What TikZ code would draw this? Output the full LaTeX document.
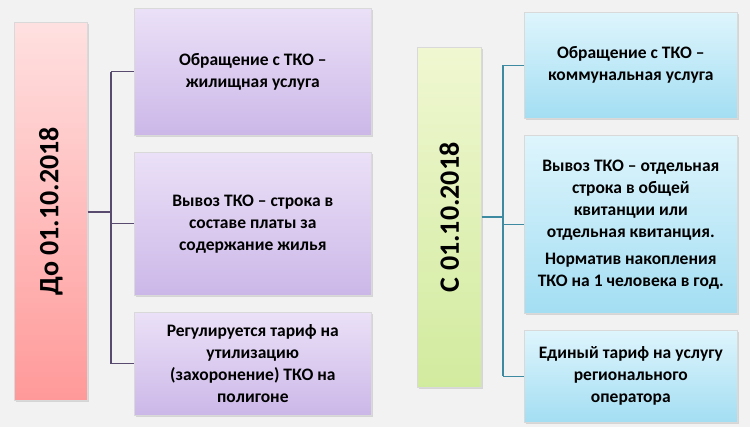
\documentclass[tikz,border=0pt]{standalone}
\usepackage{fontspec}
\setmainfont{Carlito}
\usetikzlibrary{positioning,shadows}
\definecolor{bgcolor}{rgb}{0.95,0.95,0.95}
\definecolor{violline}{rgb}{0.35,0.29,0.44}
\definecolor{tealline}{rgb}{0.24,0.54,0.63}
\definecolor{violtop}{rgb}{0.92,0.88,0.97}
\definecolor{violbot}{rgb}{0.80,0.72,0.91}
\definecolor{bluetop}{rgb}{0.87,0.96,0.99}
\definecolor{bluebot}{rgb}{0.64,0.87,0.95}
\definecolor{greentop}{rgb}{0.94,0.97,0.82}
\definecolor{greenbot}{rgb}{0.82,0.92,0.62}
\tikzset{
	box/.style={draw=white!85!black,line width=0.6pt,align=center,font=\bfseries\fontsize{17.5}{22}\selectfont,drop shadow={opacity=0.25,shadow xshift=1.5pt,shadow yshift=-1.5pt}},
	violbox/.style={box,top color=violtop,bottom color=violbot},
	bluebox/.style={box,top color=bluetop,bottom color=bluebot},
	datebox/.style={box,font=\bfseries\fontsize{28}{30}\selectfont},
	link/.style={line width=1.4pt}
}
\begin{document}
\begin{tikzpicture}[x=1pt,y=-1pt]
	\fill[bgcolor] (0,0) rectangle (750,427);
	\useasboundingbox (0,0) rectangle (750,427);

	% before
	\node(before)[datebox,top color=red!12,bottom color=red!40,minimum width=73pt,minimum height=378pt,anchor=north west] at (14,22) {\rotatebox{90}{До 01.10.2018}};
	\node(b1)[violbox,minimum width=237pt,minimum height=127pt,anchor=north west] at (134,8) {Обращение с ТКО –\\жилищная услуга};
	\node(b2)[violbox,minimum width=237pt,minimum height=143pt,anchor=north west] at (134,152) {Вывоз ТКО – строка в\\составе платы за\\содержание жилья};
	\node(b3)[violbox,minimum width=237pt,minimum height=103pt,anchor=north west] at (134,312) {Регулируется тариф на\\утилизацию\\(захоронение) ТКО на\\полигоне};
	\coordinate(bspine) at (111,212);
	\draw[violline,link] (before.east |- bspine) -- (bspine);
	\foreach \n in {b1,b2,b3}
		\draw[violline,link] (bspine |- \n.west) -- (\n.west);
	\draw[violline,link] (bspine |- b1.west) -- (bspine |- b3.west);

	% after
	\node(after)[datebox,top color=greentop,bottom color=greenbot,minimum width=64pt,minimum height=340pt,anchor=north west] at (417,47) {\rotatebox{90}{С 01.10.2018}};
	\node(a1)[bluebox,minimum width=213pt,minimum height=106pt,anchor=north west] at (524,12) {Обращение с ТКО –\\коммунальная услуга};
	\node(a2)[bluebox,minimum width=213pt,minimum height=178pt,anchor=north west] at (524,135) {Вывоз ТКО – отдельная\\строка в общей\\квитанции или\\отдельная квитанция.\\[5pt]Норматив накопления\\ТКО на 1 человека в год.};
	\node(a3)[bluebox,minimum width=213pt,minimum height=92pt,anchor=north west] at (524,330) {Единый тариф на услугу\\регионального\\оператора};
	\coordinate(aspine) at (503,217);
	\draw[tealline,link] (after.east |- aspine) -- (aspine);
	\foreach \n in {a1,a2,a3}
		\draw[tealline,link] (aspine |- \n.west) -- (\n.west);
	\draw[tealline,link] (aspine |- a1.west) -- (aspine |- a3.west);
\end{tikzpicture}
\end{document}
